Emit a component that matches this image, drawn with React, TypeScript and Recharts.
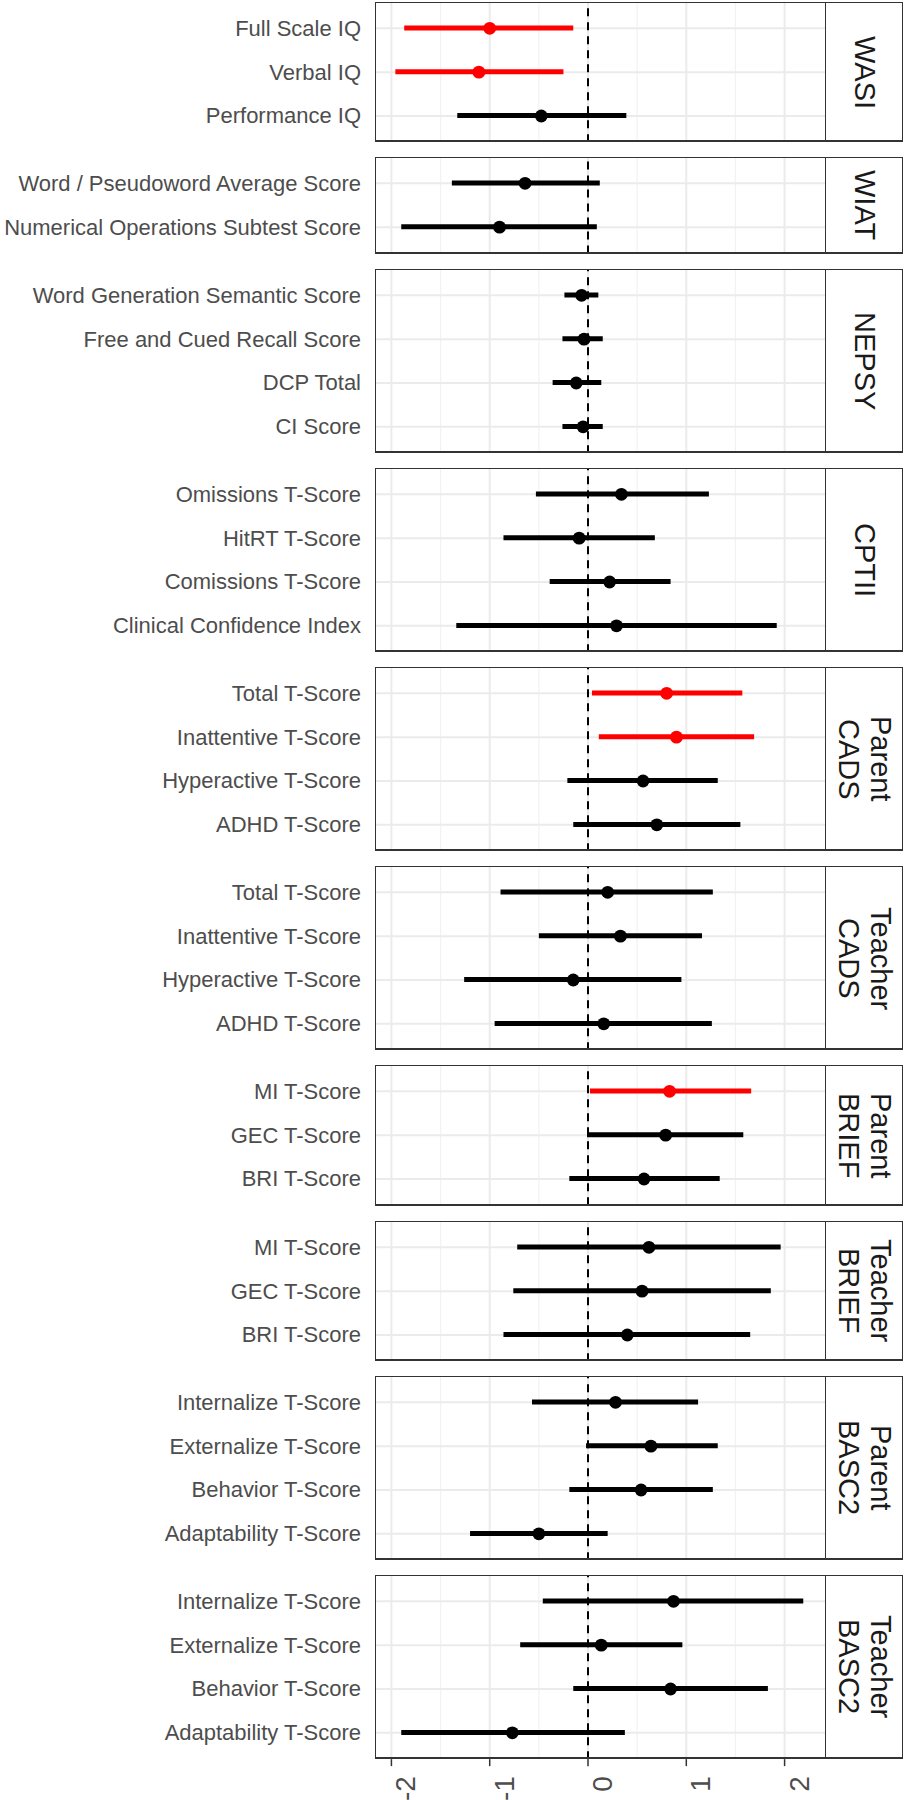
import { Bar, Cell, ComposedChart, ReferenceLine, Scatter, XAxis, YAxis } from "recharts";

// facet strips (right side), one per panel
const STRIPS = [
  "WASI",
  "WIAT",
  "NEPSY",
  "CPTII",
  "Parent\nCADS",
  "Teacher\nCADS",
  "Parent\nBRIEF",
  "Teacher\nBRIEF",
  "Parent\nBASC2",
  "Teacher\nBASC2",
];

const LABELS = [
  ["Full Scale IQ", "Verbal IQ", "Performance IQ"],
  ["Word / Pseudoword Average Score", "Numerical Operations Subtest Score"],
  ["Word Generation Semantic Score", "Free and Cued Recall Score", "DCP Total", "CI Score"],
  ["Omissions T-Score", "HitRT T-Score", "Comissions T-Score", "Clinical Confidence Index"],
  ["Total T-Score", "Inattentive T-Score", "Hyperactive T-Score", "ADHD T-Score"],
  ["Total T-Score", "Inattentive T-Score", "Hyperactive T-Score", "ADHD T-Score"],
  ["MI T-Score", "GEC T-Score", "BRI T-Score"],
  ["MI T-Score", "GEC T-Score", "BRI T-Score"],
  ["Internalize T-Score", "Externalize T-Score", "Behavior T-Score", "Adaptability T-Score"],
  ["Internalize T-Score", "Externalize T-Score", "Behavior T-Score", "Adaptability T-Score"],
];

const ESTIMATE = [
  [-1.0, -1.11, -0.475],
  [-0.64, -0.9],
  [-0.065, -0.04, -0.12, -0.05],
  [0.34, -0.09, 0.22, 0.29],
  [0.8, 0.9, 0.56, 0.7],
  [0.2, 0.33, -0.15, 0.16],
  [0.83, 0.79, 0.57],
  [0.62, 0.55, 0.4],
  [0.28, 0.64, 0.54, -0.5],
  [0.87, 0.135, 0.84, -0.77],
];

const LOWER = [
  [-1.87, -1.96, -1.33],
  [-1.385, -1.9],
  [-0.24, -0.26, -0.36, -0.26],
  [-0.53, -0.86, -0.39, -1.34],
  [0.04, 0.11, -0.21, -0.15],
  [-0.89, -0.5, -1.26, -0.95],
  [0.02, -0.01, -0.19],
  [-0.72, -0.76, -0.86],
  [-0.57, -0.02, -0.19, -1.2],
  [-0.46, -0.69, -0.15, -1.9],
];

const UPPER = [
  [-0.15, -0.25, 0.39],
  [0.12, 0.09],
  [0.105, 0.15, 0.135, 0.15],
  [1.23, 0.68, 0.84, 1.92],
  [1.57, 1.69, 1.32, 1.55],
  [1.27, 1.16, 0.95, 1.26],
  [1.66, 1.58, 1.34],
  [1.96, 1.86, 1.65],
  [1.12, 1.32, 1.27, 0.2],
  [2.19, 0.96, 1.83, 0.375],
];

const X_TICKS = [-2, -1, 0, 1, 2];
const X_MINOR = [-1.5, -0.5, 0.5, 1.5];
const X_DOMAIN: [number, number] = [-2.167, 2.411];

const FONT = "'Liberation Sans', Arial, sans-serif";
const UNIT = 43.84; // height of one row step
const GAP = 15;
const TOP = 2;
const PLOT_LEFT = 375;
const PLOT_RIGHT = 825;
const STRIP_RIGHT = 903;
const AXIS_H = 41;

function XTick({ x, y, payload }: any) {
  return (
    <g>
      <line x1={x} x2={x} y1={y} y2={y + 7} stroke="#333333" strokeWidth={1.5} />
      <text
        transform={`translate(${x + 24},${y + 17}) rotate(-90)`}
        textAnchor="end"
        fontSize={28}
        fill="#4D4D4D"
      >
        {payload.value}
      </text>
    </g>
  );
}

function YTick({ y, payload }: any) {
  return (
    <text x={PLOT_LEFT - 14} y={y} textAnchor="end" dominantBaseline="central" fontSize={22} fill="#4D4D4D">
      {payload.value}
    </text>
  );
}

const Dot = (props: any) => (
  <circle cx={props.cx} cy={props.cy} r={6.4} fill={props.payload?.sig ? "#FF0000" : "#000000"} />
);

function Panel({ index, top, height, last }: { index: number; top: number; height: number; last: boolean }) {
  const data = LABELS[index].map((label, j) => {
    const lo = LOWER[index][j];
    const hi = UPPER[index][j];
    return { label, est: ESTIMATE[index][j], range: [lo, hi], sig: lo > 0 || hi < 0 };
  });
  const pad = 0.1 * UNIT;

  return (
    <>
      <div style={{ position: "absolute", left: 0, top }}>
        <ComposedChart
          width={PLOT_RIGHT}
          height={height + (last ? AXIS_H : 0)}
          data={data}
          layout="vertical"
          margin={{ top: 0, right: 0, bottom: 0, left: 0 }}
        >
          <XAxis
            type="number"
            domain={X_DOMAIN}
            ticks={X_TICKS}
            allowDataOverflow
            hide={!last}
            height={AXIS_H}
            axisLine={false}
            tickLine={false}
            tickSize={0}
            tickMargin={0}
            tick={<XTick />}
            interval={0}
          />
          <YAxis
            type="category"
            dataKey="label"
            width={PLOT_LEFT}
            axisLine={false}
            tickLine={false}
            tick={<YTick />}
            interval={0}
            padding={{ top: pad, bottom: pad }}
          />
          {X_MINOR.map((v) => (
            <ReferenceLine key={`m${v}`} x={v} stroke="#F2F2F2" strokeWidth={1.2} zIndex={-60} />
          ))}
          {X_TICKS.map((v) => (
            <ReferenceLine key={`M${v}`} x={v} stroke="#EBEBEB" strokeWidth={2} zIndex={-60} />
          ))}
          {data.map((d) => (
            <ReferenceLine key={`r${d.label}`} y={d.label} stroke="#EBEBEB" strokeWidth={2} zIndex={-60} />
          ))}
          <ReferenceLine x={0} stroke="#000000" strokeWidth={2} strokeDasharray="8 6" zIndex={-40} />
          <Bar dataKey="range" barSize={5} isAnimationActive={false}>
            {data.map((d, i) => (
              <Cell key={i} fill={d.sig ? "#FF0000" : "#000000"} />
            ))}
          </Bar>
          <Scatter dataKey="est" shape={Dot} isAnimationActive={false} />
        </ComposedChart>
      </div>
      {/* panel + strip borders */}
      <div
        style={{
          position: "absolute",
          left: PLOT_LEFT,
          top,
          width: STRIP_RIGHT - PLOT_LEFT,
          height,
          boxSizing: "border-box",
          borderTop: "1px solid #333333",
          borderLeft: "1px solid #333333",
          borderRight: "1.5px solid #333333",
          borderBottom: "2px solid #333333",
          pointerEvents: "none",
        }}
      />
      <div
        style={{
          position: "absolute",
          left: PLOT_RIGHT,
          top,
          width: STRIP_RIGHT - PLOT_RIGHT,
          height,
          boxSizing: "border-box",
          borderLeft: "1.5px solid #333333",
          display: "flex",
          alignItems: "center",
          justifyContent: "center",
        }}
      >
        <div
          style={{
            writingMode: "vertical-rl",
            whiteSpace: "pre-line",
            textAlign: "center",
            fontSize: 29,
            lineHeight: "32px",
            color: "#1A1A1A",
          }}
        >
          {STRIPS[index]}
        </div>
      </div>
    </>
  );
}

export default function App() {
  let top = TOP;
  const layout = LABELS.map((labels) => {
    const height = (labels.length + 0.2) * UNIT;
    const p = { top, height };
    top += height + GAP;
    return p;
  });

  return (
    <div
      style={{
        position: "absolute",
        left: 0,
        top: 0,
        width: 905,
        height: 1800,
        background: "#ffffff",
        fontFamily: FONT,
        overflow: "hidden",
      }}
    >
      {layout.map((p, i) => (
        <Panel key={i} index={i} top={p.top} height={p.height} last={i === LABELS.length - 1} />
      ))}
    </div>
  );
}
